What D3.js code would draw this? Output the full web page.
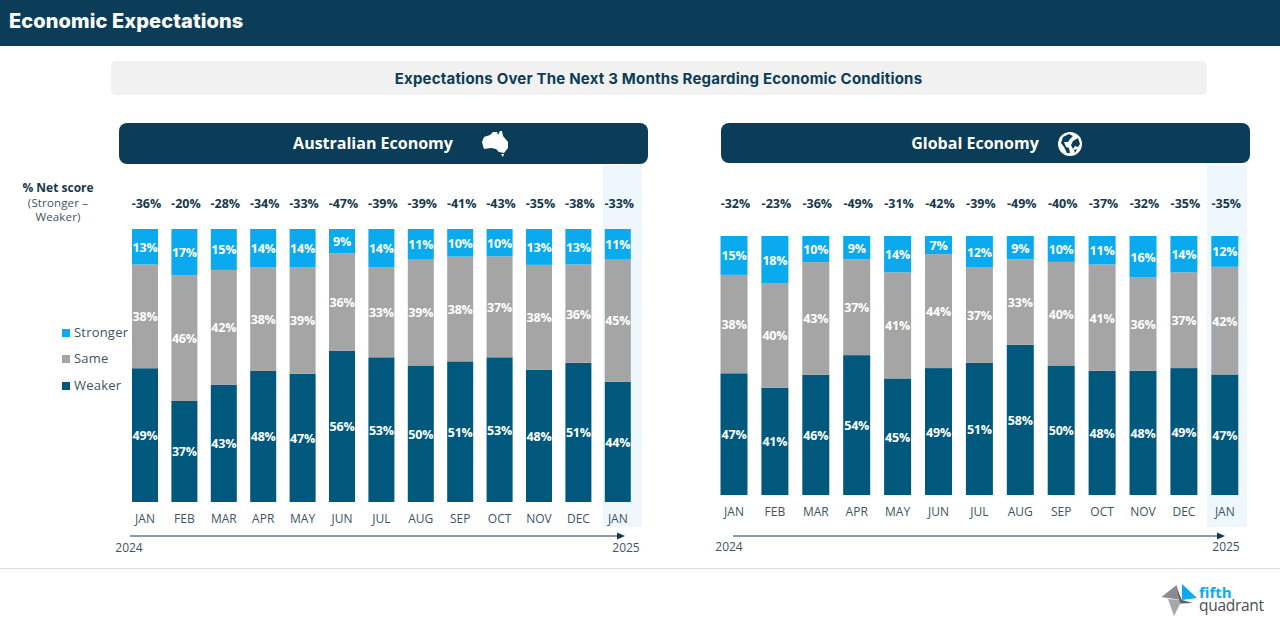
<!DOCTYPE html>
<html><head><meta charset="utf-8">
<script src="https://cdnjs.cloudflare.com/ajax/libs/d3/7.8.5/d3.min.js"></script>
<style>html,body{margin:0;padding:0;background:#fff;overflow:hidden}svg{display:block}text{font-family:"Open Sans",sans-serif}</style>
</head><body><svg id="c" width="1280" height="633"></svg>
<script>
const months=["JAN","FEB","MAR","APR","MAY","JUN","JUL","AUG","SEP","OCT","NOV","DEC","JAN "];
const seriesNames=["Weaker","Same","Stronger"];
const seriesColors=["#00587c","#a5a5a5","#0baaef"];
const ausWeaker=[49,37,43,48,47,56,53,50,51,53,48,51,44];
const ausSame=[38,46,42,38,39,36,33,39,38,37,38,36,45];
const ausStronger=[13,17,15,14,14,9,14,11,10,10,13,13,11];
const ausNet=[-36,-20,-28,-34,-33,-47,-39,-39,-41,-43,-35,-38,-33];
const gloWeaker=[47,41,46,54,45,49,51,58,50,48,48,49,47];
const gloSame=[38,40,43,37,41,44,37,33,40,41,36,37,42];
const gloStronger=[15,18,10,9,14,7,12,9,10,11,16,14,12];
const gloNet=[-32,-23,-36,-49,-31,-42,-39,-49,-40,-37,-32,-35,-35];

const NAVY="#0b3d58",INK="#3d5462",DARK="#16384c";
const svg=d3.select("#c");
function rect(x,y,w,h,f,r){return svg.append("rect").attr("x",x).attr("y",y).attr("width",w).attr("height",h).attr("fill",f).attr("rx",r||0);}
function text(x,y,s,o){o=o||{};return svg.append("text").attr("x",x).attr("y",y).text(s)
 .attr("font-size",o.size||12).attr("font-weight",o.weight||400).attr("fill",o.fill||INK)
 .attr("text-anchor",o.anchor||"middle").style("font-family",o.family||null).style("letter-spacing",o.ls||null);}

rect(0,0,1280,46,NAVY);
text(9,28,"Economic Expectations",{size:20,weight:800,fill:"#fff",anchor:"start",family:"Inter,sans-serif",ls:"0.1px"});
rect(111,61,1096,34,"#f1f1f1",5);
text(658.5,84,"Expectations Over The Next 3 Months Regarding Economic Conditions",{size:15,weight:700,fill:NAVY,family:"Inter,sans-serif",ls:"0.2px"});

function panel(cfg){
 rect(cfg.hx,123,529,cfg.hh,NAVY,8);
 text(cfg.tx,149,cfg.title,{size:16,weight:700,fill:"#fff"});
 rect(cfg.bgx,165,cfg.bgw,362,"#eef7fc");
 const x=d3.scaleBand().domain(months).range(cfg.xr).paddingInner(0.34).paddingOuter(0.17);
 const y=d3.scaleLinear().domain([0,1]).range(cfg.yr);
 const rows=months.map((m,i)=>({m,Weaker:cfg.w[i],Same:cfg.s[i],Stronger:cfg.st[i]}));
 const stacked=d3.stack().keys(seriesNames).offset(d3.stackOffsetExpand)(rows);
 const g=svg.append("g");
 stacked.forEach((ser,k)=>{
  g.append("g").selectAll("rect").data(ser).join("rect")
   .attr("x",d=>x(d.data.m)).attr("width",x.bandwidth())
   .attr("y",d=>y(d[1])).attr("height",d=>y(d[0])-y(d[1])).attr("fill",seriesColors[k]);
  g.append("g").selectAll("text").data(ser).join("text")
   .attr("x",d=>x(d.data.m)+x.bandwidth()/2).attr("y",d=>(y(d[0])+y(d[1]))/2+5)
   .attr("text-anchor","middle").attr("font-size",12.5).attr("font-weight",700).attr("fill","#fff")
   .style("letter-spacing","-0.2px")
   .text(d=>d.data[seriesNames[k]]+"%");
 });
 g.append("g").selectAll("text").data(cfg.net).join("text")
  .attr("x",(d,i)=>x(months[i])+x.bandwidth()/2+1.5).attr("y",208)
  .attr("text-anchor","middle").attr("font-size",12.5).attr("font-weight",700).attr("fill",DARK)
  .text(d=>d+"%");
 const ax=svg.append("g").attr("transform",`translate(0,${cfg.yr[0]})`)
  .call(d3.axisBottom(x).tickSize(0).tickPadding(cfg.pad).tickFormat(d=>d.trim()));
 ax.select(".domain").remove();
 ax.selectAll("text").attr("font-size",12).attr("fill",INK).style("font-family",'"Open Sans",sans-serif');
 svg.append("line").attr("x1",cfg.ax0).attr("x2",cfg.ax1-6).attr("y1",536).attr("y2",536).attr("stroke",DARK).attr("stroke-width",1);
 svg.append("path").attr("d",`M${cfg.ax1-8},532.5L${cfg.ax1},536L${cfg.ax1-8},539.5Z`).attr("fill",DARK);
 text(cfg.y0,cfg.yy,"2024",{size:12});
 text(cfg.y1,cfg.yy,"2025",{size:12});
}
panel({hx:119,hh:41,tx:373,title:"Australian Economy",bgx:603,bgw:39,xr:[125.3,637.5],yr:[502,229],w:ausWeaker,s:ausSame,st:ausStronger,net:ausNet,pad:12,ax0:130,ax1:625,y0:129,y1:626,yy:552});
panel({hx:721,hh:40,tx:975,title:"Global Economy",bgx:1207,bgw:40,xr:[713.55,1245.25],yr:[495,236],w:gloWeaker,s:gloSame,st:gloStronger,net:gloNet,pad:12,ax0:733,ax1:1225,y0:729,y1:1226,yy:551});

// net score caption
text(58,192,"% Net score",{size:12,weight:700,fill:DARK});
text(58,207,"(Stronger –",{size:11.5,ls:"0.15px"});
text(58,221,"Weaker)",{size:11.5,ls:"0.15px"});

// legend
[[2,333],[1,359],[0,386]].forEach(([k,cy])=>{
 rect(62,cy-4,8,8,seriesColors[k]);
 text(74,cy+3.5,seriesNames[k],{size:13,anchor:"start",ls:"0.2px"});
});

// icons
svg.append("path").attr("fill","#fff").attr("d","M482,142L484,137L490,135L493,132L497,132L498,135L500,131L502,131L503,136L508,142L508,148L504,153L499,152L496,149L491,148L484,149L483,146Z M501,154L504,154L503,157Z");
const gl=svg.append("g").attr("transform","translate(1070,144)");
gl.append("circle").attr("r",12).attr("fill","#fff");
gl.append("path").attr("fill",NAVY).attr("d","M-7,-7L-1,-10L3,-8L0,-5L-2,-2L-6,-2L-4,3L-1,4L0,9L-3,9L-6,3L-9,-1Z M3,-3L8,-6L10,0L8,3L5,2L3,5L1,1Z M4,6L7,5L5,9Z");

// footer
svg.append("line").attr("x1",0).attr("x2",1280).attr("y1",568.5).attr("y2",568.5).attr("stroke","#dcdcdc");
svg.append("path").attr("fill","#8a8c90").attr("d","M1161.5,597L1176.5,585L1181,600Z");
svg.append("path").attr("fill","#a5a7aa").attr("d","M1168,599L1181,600L1192.5,603L1180,604L1174,616Z");
svg.append("path").attr("fill","#5f6266").attr("d","M1177,589L1182,600L1192.5,603L1180,603Z");
svg.append("path").attr("fill","#0baaef").attr("d","M1182,584L1197,598L1182,600Z");
text(1199,597.5,"fifth",{size:15,weight:700,fill:"#0baaef",anchor:"start"});
text(1199,611,"quadrant",{size:15.5,fill:"#4a4d50",anchor:"start",ls:"-0.3px"});
</script></body></html>
